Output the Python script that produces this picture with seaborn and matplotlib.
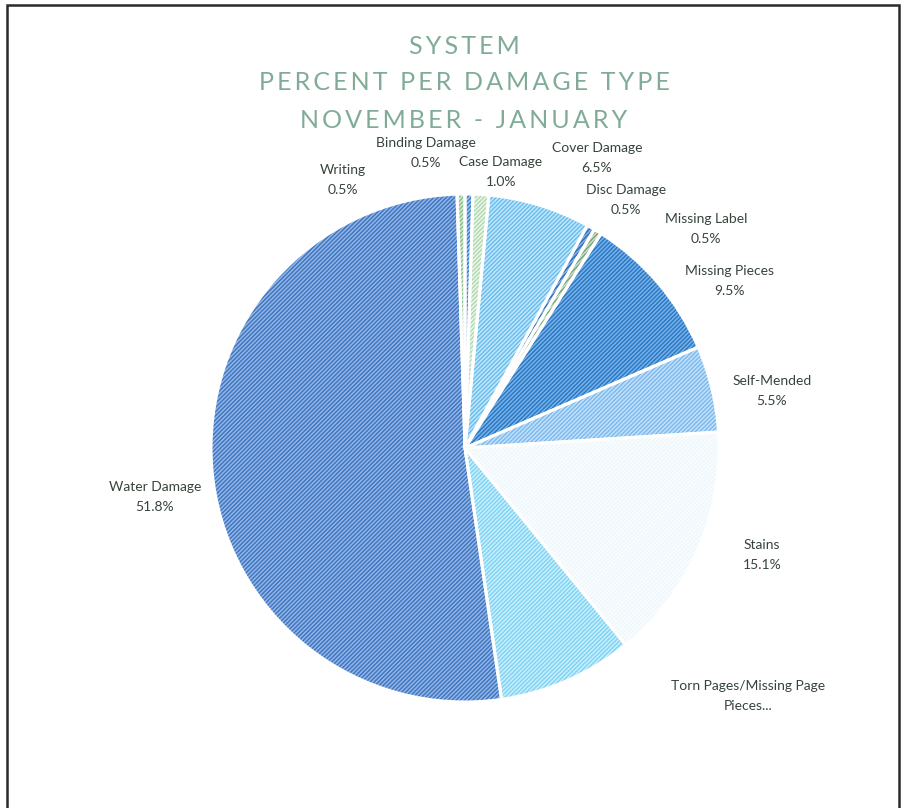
import matplotlib
matplotlib.use("Agg")
import matplotlib.pyplot as plt
from matplotlib.patches import Rectangle
import seaborn as sns

# ---- data ----
categories = ["Binding Damage", "Case Damage", "Cover Damage", "Disc Damage",
              "Missing Label", "Missing Pieces", "Self-Mended", "Stains",
              "Torn Pages/Missing Page|Pieces...", "Water Damage", "Writing"]
percents = [0.5, 1.0, 6.5, 0.5, 0.5, 9.5, 5.5, 15.1, 8.6, 51.8, 0.5]
pct_labels = ["0.5%", "1.0%", "6.5%", "0.5%", "0.5%", "9.5%", "5.5%", "15.1%", "", "51.8%", "0.5%"]
title_lines = ["SYSTEM", "PERCENT PER DAMAGE TYPE", "NOVEMBER - JANUARY"]

# ---- styles ----
fills = ["#3c7fcf", "#b3d9b3", "#6cbfee", "#2e6fbf", "#7ea77e", "#2a7ac8",
         "#7fbbee", "#eef7fc", "#82d4f4", "#4277c2", "#8fbf8f"]
hatch_cols = ["#a6c8ee", "#eef8ee", "#c6e8fb", "#8fb5e5", "#cfe2cf", "#7eb4e8",
              "#c6e2f9", "#fbfeff", "#cdf0fc", "#96b9e8", "#d8ecd8"]

sns.set_theme(style="white")
plt.rcParams['font.family'] = ['Lato', 'DejaVu Sans']
plt.rcParams['hatch.linewidth'] = 1.0

W, H = 904, 808
CX, CY, R = 465, 448, 254
fig = plt.figure(figsize=(W / 100, H / 100), dpi=100)
ax = fig.add_axes([0, 0, 1, 1])

wedges, _ = ax.pie(percents, startangle=90, counterclock=False, radius=1,
                   colors=fills, wedgeprops=dict(linewidth=0))
for w, hc in zip(wedges, hatch_cols):
    w.set_edgecolor(hc)
    w.set_hatch("////////")
    w.set_linewidth(0)
# white separators
ax.pie(percents, startangle=90, counterclock=False, radius=1,
       colors=["none"] * len(percents),
       wedgeprops=dict(linewidth=2.2, edgecolor="white", fill=False))
ax.set_xlim(-CX / R, (W - CX) / R)
ax.set_ylim(-(H - CY) / R, CY / R)
ax.axis("off")

# label positions in pixels (layout only)
label_pos = [(426, 143), (501, 162), (597, 148), (626, 190), (706, 219),
             (730, 271), (772, 381), (762, 545), (748, 686), (155, 487), (343, 170)]
lab_col = "#36443a"
for name, pl, (px, py) in zip(categories, pct_labels, label_pos):
    lines = name.split("|")
    if pl:
        lines.append(pl)
    for i, ln in enumerate(lines):
        fig.text(px / W, 1 - (py + 20 * i) / H, ln, ha="center", va="center",
                 fontsize=10, color=lab_col)

title_y = [46, 83, 120]
for line, ty in zip(title_lines, title_y):
    fig.text(464 / W, 1 - ty / H, "\u2009".join(list(line)),
             ha="center", va="center", fontsize=18, color="#80ac97")

fig.add_artist(Rectangle((7 / W, -0.01), (899 - 7) / W, 1 - 5 / H + 0.01,
                         transform=fig.transFigure, fill=False,
                         edgecolor="#2a2a2a", linewidth=1.8))

fig.savefig("out.png", dpi=100)
